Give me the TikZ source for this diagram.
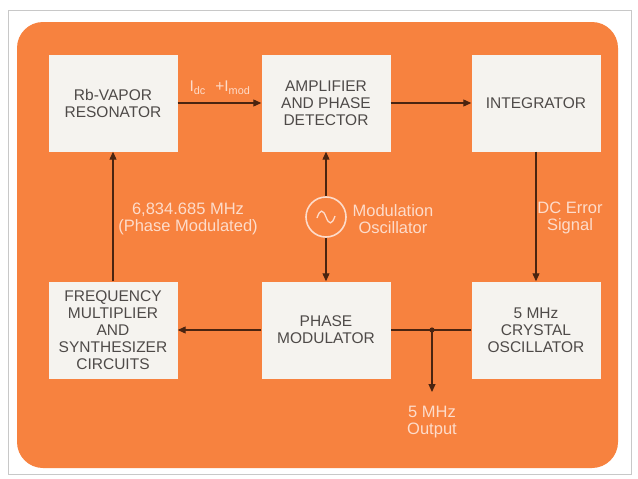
\documentclass[tikz,border=0pt]{standalone}
\usepackage{fontspec}
\setmainfont{Liberation Sans}
\usetikzlibrary{arrows.meta}
\definecolor{orangebg}{HTML}{F7823F}
\definecolor{boxfill}{HTML}{F5F3EF}
\definecolor{boxtext}{HTML}{4E4A48}
\definecolor{labeltext}{HTML}{FDDCCB}
\definecolor{arrowcol}{HTML}{4A2410}
\definecolor{framecol}{HTML}{C8C8C8}
\tikzset{
  blockbox/.style={fill=boxfill, draw=none, minimum width=129pt, minimum height=97pt,
    align=center, text=boxtext, font=\fontsize{15.5}{17}\selectfont, inner sep=0pt},
  lbl/.style={align=center, text=labeltext, font=\fontsize{16.5}{17.5}\selectfont, inner sep=0pt},
  conn/.style={draw=arrowcol, line width=1.1pt},
  tip/.style={-{Triangle[length=8pt,width=7pt]}}
}
\begin{document}
\begin{tikzpicture}[x=1pt,y=-1pt]
\useasboundingbox (0,0) rectangle (638,479);
\fill[white] (0,0) rectangle (638,479);
\draw[framecol, line width=0.8pt] (8,10) rectangle (631,474);
\fill[orangebg, rounded corners=26pt] (17,22) rectangle (618,468);

\node[blockbox] (rb) at (113,103) {Rb-VAPOR\\RESONATOR};
\node[blockbox] (amp) at (326,103) {AMPLIFIER\\AND PHASE\\DETECTOR};
\node[blockbox] (integ) at (536,103) {INTEGRATOR};
\node[blockbox] (fm) at (113,330) {FREQUENCY\\MULTIPLIER\\AND\\SYNTHESIZER\\CIRCUITS};
\node[blockbox] (pm) at (326,330) {PHASE\\MODULATOR};
\node[blockbox] (xo) at (536,330) {5 MHz\\CRYSTAL\\OSCILLATOR};

\node[circle, draw=labeltext, line width=1.6pt, minimum size=40pt, inner sep=0pt] (osc) at (326,217) {};
\draw[labeltext, line width=1.3pt] (317,218) .. controls (320,209) and (323,209) .. (326,217)
  .. controls (329,225) and (332,225) .. (335,216);

\draw[conn, tip] (rb.east) -- (amp.west);
\node[lbl, font=\fontsize{15.5}{17}\selectfont] (idc) at (220,88) {I\textsubscript{dc}\,\, +I\textsubscript{mod}};
\draw[conn, tip] (amp.east) -- (integ.west);
\draw[conn, tip] (integ.south) -- (xo.north);
\node[lbl] (dcerr) at (570,218) {DC Error\\Signal};
\coordinate (junc) at (432,330);
\coordinate (outpt) at (432,392);
\draw[conn] (xo.west) -- (pm.east);
\draw[conn, tip] (pm.west) -- (fm.east);
\fill[arrowcol] (junc) circle (2.6pt);
\draw[conn, tip] (junc) -- (outpt);
\node[lbl] (outlbl) at (432,422) {5 MHz\\Output};
\draw[conn, tip] (fm.north) -- (rb.south);
\node[lbl] (freq) at (188,219) {6,834.685 MHz\\(Phase Modulated)};
\draw[conn, tip] (osc.north) -- (amp.south);
\draw[conn, tip] (osc.south) -- (pm.north);
\node[lbl] (modosc) at (393,219) {Modulation\\Oscillator};
\end{tikzpicture}
\end{document}
